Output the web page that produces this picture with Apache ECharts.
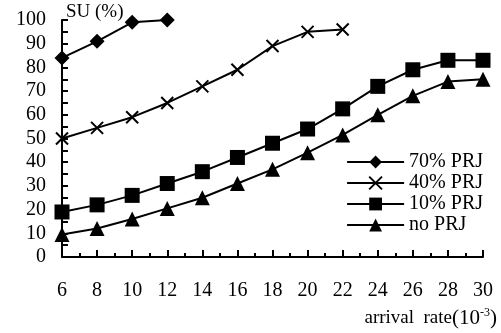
<!DOCTYPE html>
<html>
<head>
<meta charset="utf-8">
<script src="https://cdn.jsdelivr.net/npm/echarts@6/dist/echarts.min.js"></script>
<style>
html,body{margin:0;padding:0;background:#fff;}
#main{width:501px;height:333px;}
</style>
</head>
<body>
<div id="main"></div>
<script>
var rates = [6, 8, 10, 12, 14, 16, 18, 20, 22, 24, 26, 28, 30];
var prj70 = [84, 91, 99, 100];
var prj40 = [50, 54.5, 59, 65, 72, 79, 89, 95, 96];
var prj10 = [19, 22, 26, 31, 36, 42, 48, 54, 62.5, 72, 79, 83, 83];
var noPrj = [9.5, 12, 16, 20.5, 25, 31, 37, 44, 51.5, 60, 68, 74, 75];
var names = ['70% PRJ', '40% PRJ', '10% PRJ', 'no PRJ'];

function pts(vals) {
    return vals.map(function (v, i) { return [rates[i], v]; });
}

var font = 'Liberation Serif';
var cross = 'path://M0,0L10,10M10,0L0,10';

function line(name, vals, symbol, size, extra) {
    var s = {
        name: name,
        type: 'line',
        data: pts(vals),
        symbol: symbol,
        symbolSize: size,
        lineStyle: {color: '#000', width: 2},
        itemStyle: {color: '#000'},
        animation: false
    };
    if (extra) s.itemStyle = extra;
    return s;
}

var option = {
    backgroundColor: '#fff',
    textStyle: {fontFamily: font, color: '#000'},
    grid: {left: 62, right: 18, top: 20, bottom: 76},
    legend: {
        orient: 'vertical',
        right: 18,
        top: 152,
        itemWidth: 57,
        itemHeight: 16,
        itemGap: 1,
        data: names,
        textStyle: {fontFamily: font, fontSize: 20, color: '#000'},
        padding: 0
    },
    xAxis: {
        type: 'value',
        min: 6,
        max: 30,
        interval: 2,
        name: '{a|arrival  rate}{c|(10}{b|-3}{c|)}',
        nameLocation: 'end',
        nameGap: 0,
        nameTextStyle: {
            align: 'right',
            verticalAlign: 'top',
            padding: [50, -14, 0, 0],
            rich: {
                a: {fontFamily: font, fontSize: 19, color: '#000'},
                c: {fontFamily: font, fontSize: 21, color: '#000'},
                b: {fontFamily: font, fontSize: 12, color: '#000', verticalAlign: 'top', padding: [0, 0, 10, 0]}
            }
        },
        axisLine: {lineStyle: {color: '#000', width: 2}},
        axisTick: {inside: true, length: 7, lineStyle: {color: '#000', width: 2}},
        minorTick: {show: true, splitNumber: 2, length: 4, lineStyle: {color: '#000', width: 2}},
        axisLabel: {fontFamily: font, fontSize: 20, color: '#000', margin: 24},
        splitLine: {show: false}
    },
    yAxis: {
        type: 'value',
        min: 0,
        max: 100,
        interval: 10,
        name: 'SU (%)',
        nameLocation: 'end',
        nameGap: 2,
        nameTextStyle: {fontFamily: font, fontSize: 19, color: '#000', align: 'left', padding: [0, 0, -4, 4]},
        axisLine: {show: true, lineStyle: {color: '#000', width: 2}},
        axisTick: {show: true, inside: true, length: 6, lineStyle: {color: '#000', width: 2}},
        minorTick: {show: true, splitNumber: 2, length: 6, lineStyle: {color: '#000', width: 2}},
        axisLabel: {fontFamily: font, fontSize: 20, color: '#000', margin: 16},
        splitLine: {show: false}
    },
    series: [
        line(names[0], prj70, 'diamond', 15),
        line(names[1], prj40, cross, 12, {color: 'none', borderColor: '#000', borderWidth: 2}),
        line(names[2], prj10, 'rect', 15),
        line(names[3], noPrj, 'triangle', 15)
    ]
};

echarts.init(document.getElementById('main')).setOption(option);
</script>
</body>
</html>
